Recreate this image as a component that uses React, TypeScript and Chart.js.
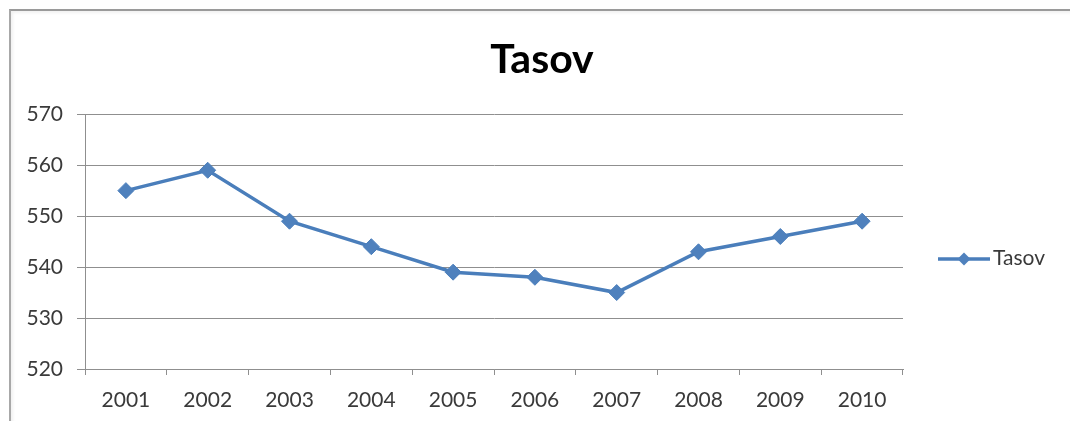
import React, { useEffect, useRef } from 'react';
import { Chart, registerables } from 'chart.js';

Chart.register(...registerables);

const chartTitle = 'Tasov';
const seriesName = 'Tasov';
const years = ['2001', '2002', '2003', '2004', '2005', '2006', '2007', '2008', '2009', '2010'];
const tasovValues = [555, 559, 549, 544, 539, 538, 535, 543, 546, 549];
const yMin = 520;
const yMax = 570;
const yStep = 10;

const LINE_COLOR = '#4A7EBB';
const MARKER_COLOR = '#4F81BD';
const GRID_COLOR = '#8f8f8f';
const TEXT_COLOR = '#3a3a3a';
const FONT = 'Lato, "Open Sans", sans-serif';

const sideLegend = {
  id: 'sideLegend',
  afterDraw(chart: any) {
    const ctx = chart.ctx as CanvasRenderingContext2D;
    const ds = chart.data.datasets[0];
    const cy = 259;
    const x0 = 938;
    const x1 = 990;
    const mx = (x0 + x1) / 2;
    const r = 6.5;
    ctx.save();
    ctx.strokeStyle = ds.borderColor;
    ctx.lineWidth = 3.5;
    ctx.beginPath();
    ctx.moveTo(x0, cy);
    ctx.lineTo(x1, cy);
    ctx.stroke();
    ctx.fillStyle = ds.pointBackgroundColor;
    ctx.beginPath();
    ctx.moveTo(mx - r, cy);
    ctx.lineTo(mx, cy - r);
    ctx.lineTo(mx + r, cy);
    ctx.lineTo(mx, cy + r);
    ctx.closePath();
    ctx.fill();
    ctx.fillStyle = TEXT_COLOR;
    ctx.font = `21px ${FONT}`;
    ctx.textAlign = 'left';
    ctx.textBaseline = 'middle';
    ctx.fillText(ds.label, x1 + 3, cy - 1);
    ctx.restore();
  },
};

function LineChart() {
  const ref = useRef<HTMLCanvasElement | null>(null);
  useEffect(() => {
    if (!ref.current) return;
    const chart = new Chart(ref.current, {
      type: 'line',
      data: {
        labels: years,
        datasets: [
          {
            label: seriesName,
            data: tasovValues,
            borderColor: LINE_COLOR,
            backgroundColor: MARKER_COLOR,
            pointBackgroundColor: MARKER_COLOR,
            pointBorderColor: LINE_COLOR,
            pointBorderWidth: 1,
            pointStyle: 'rectRot',
            pointRadius: 8,
            borderWidth: 3.5,
            tension: 0,
            fill: false,
            yAxisID: 'y',
          },
        ],
      },
      options: {
        responsive: true,
        maintainAspectRatio: false,
        animation: false,
        layout: { padding: { left: 14, right: 0, top: 0, bottom: 0 } },
        plugins: {
          legend: { display: false },
          tooltip: { enabled: false },
          title: {
            display: true,
            text: chartTitle,
            color: '#000',
            font: { family: FONT, size: 41, weight: 'bold', lineHeight: 1.2 },
            padding: { top: 35, bottom: 30 },
          },
        },
        scales: {
          x: {
            offset: true,
            afterFit(scale: any) {
              scale.height = 52;
            },
            grid: {
              offset: true,
              drawOnChartArea: false,
              drawTicks: true,
              tickLength: 6,
              color: GRID_COLOR,
            },
            border: { display: true, color: GRID_COLOR, width: 1 },
            ticks: {
              color: TEXT_COLOR,
              font: { family: FONT, size: 21 },
              padding: 13,
              maxRotation: 0,
            },
          },
          y: {
            min: yMin,
            max: yMax,
            afterFit(scale: any) {
              scale.width = 71;
            },
            grid: {
              color: GRID_COLOR,
              drawTicks: true,
              tickLength: 8,
            },
            border: { display: true, color: GRID_COLOR, width: 1 },
            ticks: {
              stepSize: yStep,
              color: TEXT_COLOR,
              font: { family: FONT, size: 21 },
              padding: 14,
            },
          },
          legendSpace: {
            type: 'linear',
            position: 'right',
            display: true,
            afterFit(scale: any) {
              scale.width = 167;
            },
            grid: { display: false, drawOnChartArea: false, drawTicks: false },
            border: { display: false },
            ticks: { display: false },
          },
        },
      },
      plugins: [sideLegend],
    });
    return () => chart.destroy();
  }, []);
  return <canvas ref={ref} />;
}

export default function App() {
  return (
    <div
      style={{
        position: 'absolute',
        left: 0,
        top: 0,
        width: 1070,
        height: 421,
        background: '#fff',
        overflow: 'hidden',
      }}
    >
      <div
        style={{
          position: 'absolute',
          left: 9,
          top: 9,
          right: 0,
          bottom: 0,
          borderTop: '2px solid #9a9a9a',
          borderLeft: '2px solid #a8a8a8',
          boxShadow: 'inset 2px 2px 3px rgba(0,0,0,0.06)',
        }}
      />
      <div style={{ position: 'absolute', left: 0, top: 0, width: 1070, height: 421 }}>
        <LineChart />
      </div>
    </div>
  );
}
